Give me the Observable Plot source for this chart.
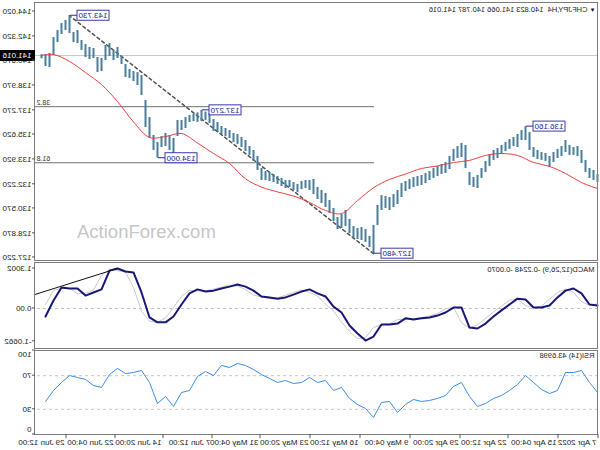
<!DOCTYPE html>
<html><head><meta charset="utf-8">
<script src="https://cdn.jsdelivr.net/npm/d3@7"></script>
<script src="https://cdn.jsdelivr.net/npm/@observablehq/plot@0.6"></script>
<style>
html,body{margin:0;padding:0;background:#fff;}
#wrap{position:relative;width:600px;height:450px;overflow:hidden;background:#fff;}
#chart{position:absolute;left:0;top:0;width:600px;height:450px;transform:scaleX(-1);transform-origin:300px 225px;}
#chart svg{display:block;}
#wm{position:absolute;left:0;top:0;pointer-events:none;}
</style></head><body>
<div id="wrap"><div id="chart"></div>
<svg id="wm" width="600" height="450"><text x="77" y="238" font-family="'Liberation Sans', Arial, sans-serif" font-size="18.5" fill="#c6c6c6">ActionForex.com</text></svg>
</div>
<script>
const FONT = "'Liberation Sans', Arial, sans-serif";
const symbolTitle = "CHFJPY,H4\u00a0\u00a0140.823 141.066 140.787 141.016";
const macdTitle = "MACD(12,26,9) -0.2248 -0.0070";
const rsiTitle = "RSI(14) 43.6998";
const lastClose = 141.016;

// H4 bars (one entry per sampled bar, oldest first)
const high = [132.89,133.16,133.30,133.85,134.53,134.80,134.73,134.87,135.21,134.80,
134.60,134.39,134.12,134.32,134.39,134.53,134.73,135.76,136.16,135.89,
135.62,135.42,135.28,135.07,134.87,134.66,134.53,134.25,133.78,133.30,
132.82,132.68,133.03,134.87,135.01,134.80,134.60,134.12,133.71,133.57,
133.44,133.30,133.09,132.96,132.82,132.75,132.68,132.55,132.41,132.27,
131.80,131.52,131.32,131.39,131.45,130.77,129.41,128.66,129.13,129.27,
129.20,129.34,129.82,130.43,130.16,129.95,130.57,131.11,131.59,131.80,
132.00,132.55,132.48,132.48,132.41,132.21,132.34,132.48,132.48,132.62,
132.75,132.89,133.03,133.09,133.30,134.12,134.53,134.80,135.21,135.42,
135.62,135.69,135.89,136.03,136.17,136.44,136.64,137.05,137.15,137.27,
137.10,137.00,136.92,136.78,136.58,136.58,135.35,135.55,135.69,135.48,
135.07,135.55,136.78,137.94,139.65,139.85,139.92,140.06,140.40,140.95,
141.56,141.36,141.83,141.70,140.81,140.88,141.49,141.56,141.77,142.04,
142.72,142.59,143.73,143.41,143.20,142.72,142.24,141.15,141.08,141.07];
const low = [132.34,132.48,132.62,133.03,133.64,134.12,134.19,134.19,134.39,134.12,
133.98,133.71,133.37,133.78,133.85,133.91,134.05,134.53,135.21,135.21,
134.73,134.80,134.60,134.46,134.25,133.98,133.85,133.44,133.03,132.62,
131.93,132.00,132.14,133.30,134.05,133.98,133.78,133.23,132.96,132.89,
132.75,132.62,132.48,132.27,132.14,132.07,132.00,131.86,131.73,131.32,
130.84,130.63,130.43,130.57,130.43,129.41,127.48,127.90,128.25,128.38,
128.45,128.52,128.86,129.34,129.20,129.13,129.68,130.23,130.63,130.91,
131.18,131.52,131.80,131.93,131.86,131.66,131.80,132.00,131.93,132.07,
132.21,132.34,132.41,132.48,132.48,133.16,133.78,134.19,134.46,134.73,
134.94,135.07,135.35,135.48,135.62,135.76,135.83,136.37,136.58,136.50,
136.45,136.50,136.44,136.03,135.89,135.48,134.32,134.53,134.80,134.73,
134.00,134.53,135.35,136.10,138.28,138.97,139.24,139.44,139.51,140.40,
140.81,140.67,140.95,140.67,139.92,139.85,140.81,140.74,140.88,141.36,
141.83,141.90,142.52,142.72,142.45,141.90,141.02,140.20,140.26,140.79];

// moving average (red)
const maIdx = [0,4,8,12,16,20,24,28,32,36,40,44,48,52,56,60,64,68,72,76,80,84,88,92,96,100,104,108,112,116,120,124,128,132,136,139];
const maVal = [131.93,132.34,132.96,133.44,133.71,134.19,134.32,134.19,133.85,133.71,133.47,133.30,132.92,132.55,131.98,131.11,130.22,130.43,130.98,131.42,131.70,132.03,132.59,133.64,134.32,135.04,135.69,135.48,135.42,136.48,137.87,139.03,139.85,140.61,141.08,141.02];

// MACD(12,26,9) main and signal, every second bar
const macd = [0.10,0.13,0.49,0.65,0.58,0.36,0.10,0.03,0.03,0.29,
0.32,0.13,-0.06,-0.26,-0.49,-0.65,-0.62,0.03,0.03,-0.13,
-0.23,-0.29,-0.32,-0.36,-0.32,-0.49,-0.52,-0.52,-0.91,-1.04,
-0.81,-0.55,-0.13,0.06,0.39,0.49,0.62,0.55,0.45,0.36,
0.32,0.36,0.39,0.58,0.71,0.78,0.71,0.65,0.58,0.55,
0.62,0.49,0.13,-0.26,-0.45,-0.45,-0.29,0.52,1.17,1.20,
1.30,1.23,0.62,0.52,0.42,0.65,0.65,0.68,0.26,-0.26];
const signal = [0.15,0.11,0.22,0.53,0.63,0.52,0.30,0.08,0.03,0.10,
0.30,0.27,0.08,-0.11,-0.32,-0.53,-0.64,-0.46,0.03,-0.01,
-0.16,-0.24,-0.30,-0.33,-0.35,-0.36,-0.50,-0.52,-0.62,-0.94,
-0.98,-0.75,-0.44,-0.08,0.14,0.41,0.52,0.60,0.52,0.43,
0.35,0.33,0.37,0.44,0.61,0.73,0.76,0.69,0.63,0.57,
0.57,0.59,0.40,0.03,-0.31,-0.45,-0.41,-0.09,0.68,1.18,
1.23,1.28,1.08,0.60,0.50,0.48,0.65,0.66,0.58,0.13];

// RSI(14), every second bar
const rsi = [50.0,61.9,76.2,73.8,73.8,52.4,48.8,53.6,61.9,70.2,
59.5,52.4,46.4,42.9,36.9,33.4,45.3,61.9,57.2,46.4,
42.9,40.5,39.3,41.7,35.7,26.2,39.3,38.1,20.3,31.0,
35.7,42.9,56.0,52.4,64.3,61.9,67.9,61.9,60.7,64.3,
61.9,66.7,71.4,77.4,82.2,84.5,79.8,82.2,70.2,75.0,
69.1,52.4,50.0,33.4,45.3,36.9,61.9,76.2,73.8,72.6,
78.6,71.4,56.0,58.3,65.5,67.9,70.2,61.9,52.4,39.3];

const priceTicks = [144.02,142.32,140.67,138.97,137.27,135.62,133.92,132.22,130.57,128.87,127.22];
const macdTicks = [1.3002,0,-1.0662];
const macdTickLabels = ["1.3002","0.00","-1.0662"];
const timeTickIdx = [0,10,22.5,34.5,47,59.5,72,84.5,96.5,108.75,120.75,133];
const timeTickLabels = ["7 Apr 2022","15 Apr 04:00","22 Apr 12:00","29 Apr 20:00","9 May 04:00","16 May 12:00","23 May 20:00","31 May 04:00","7 Jun 12:00","14 Jun 20:00","22 Jun 04:00","29 Jun 12:00"];

const extremeIdx = [18,56,99,110,132];
const extremePrice = [136.16,127.48,137.27,134.00,143.73];
const fibNames = ["38.2","61.8"];
const fibLevels = [137.52,133.69];
const fibStartIdx = 56;
const trendIdx = [56,132];
const trendPrice = [127.48,143.73];
const macdTrendIdx = [120,140.75];
const macdTrendVal = [1.30,0.45];

const X_DOMAIN = [0, 140.75];
const AXIS_SPAN = 8.75; // width of the price-axis strip, in bar units
const baseStyle = {fontFamily: FONT, fontSize: "8px", background: "#fff", overflow: "visible"};

const bars = high.map((h, i) => ({i, h, l: low[i]}));
const ma = maIdx.map((i, j) => ({i, v: maVal[j]}));
const trend = trendIdx.map((i, j) => ({i, p: trendPrice[j]}));

const mainPlot = Plot.plot({
  width: 600, height: 261, marginTop: 2, marginRight: 35, marginBottom: 1, marginLeft: 2,
  x: {domain: X_DOMAIN, axis: null},
  y: {domain: [127.015, 144.635], axis: null},
  style: baseStyle,
  marks: [
    Plot.ruleY([lastClose], {stroke: "#c8c8c8"}),
    Plot.ruleY(fibLevels, {x1: fibStartIdx, x2: X_DOMAIN[1], stroke: "#707070"}),
    Plot.text(fibLevels, {x: X_DOMAIN[1], y: d => d, text: (d, i) => fibNames[i], textAnchor: "end", lineAnchor: "middle", dx: -2, dy: -4, fontSize: 7, fill: "#333"}),
    Plot.line(trend, {x: "i", y: "p", stroke: "#505050", strokeDasharray: "3,3"}),
    Plot.ruleX(bars, {x: "i", y1: "l", y2: "h", stroke: "#4b7c99", strokeWidth: 2}),
    Plot.line(ma, {x: "i", y: "v", stroke: "#e8413c", strokeWidth: 1, curve: "catmull-rom"}),
    Plot.frame({stroke: "#7d7d7d"}),
    Plot.text(priceTicks, {y: d => d, text: d => d.toFixed(3), frameAnchor: "right", textAnchor: "start", lineAnchor: "middle", dx: 3, fill: "#222"}),
    // current price marker on the axis
    Plot.ruleY([lastClose], {x1: X_DOMAIN[1], x2: X_DOMAIN[1] + AXIS_SPAN, stroke: "#000", strokeWidth: 11}),
    Plot.text([lastClose], {y: d => d, text: d => d.toFixed(3), frameAnchor: "right", textAnchor: "start", lineAnchor: "middle", dx: 3, fill: "#fff"}),
    Plot.text([symbolTitle], {frameAnchor: "top-left", textAnchor: "start", lineAnchor: "middle", dx: 10, dy: 7.5, fontSize: 7.5, fill: "#222"}),
    Plot.text(["\u25BC"], {frameAnchor: "top-left", textAnchor: "start", lineAnchor: "middle", dx: 2, dy: 7.5, fontSize: 6, fill: "#111"})
  ]
});

const macdData = macd.map((v, k) => ({i: 2 * k, v, s: signal[k]}));
const macdTrend = macdTrendIdx.map((i, j) => ({i, v: macdTrendVal[j]}));
const macdPlot = Plot.plot({
  width: 600, height: 88, marginTop: 1, marginRight: 35, marginBottom: 1, marginLeft: 2,
  x: {domain: X_DOMAIN, axis: null},
  y: {domain: [-1.2987, 1.4935], axis: null},
  style: baseStyle,
  marks: [
    Plot.ruleY([0], {stroke: "#c0c0c0", strokeDasharray: "3,3"}),
    Plot.line(macdData, {x: "i", y: "s", stroke: "#c9c9c9", strokeWidth: 1}),
    Plot.line(macdData, {x: "i", y: "v", stroke: "#17177a", strokeWidth: 2}),
    Plot.line(macdTrend, {x: "i", y: "v", stroke: "#111", strokeWidth: 1}),
    Plot.frame({stroke: "#7d7d7d"}),
    Plot.text(macdTicks, {y: d => d, text: (d, i) => macdTickLabels[i], frameAnchor: "right", textAnchor: "start", lineAnchor: "middle", dx: 3, fill: "#222"}),
    Plot.text([macdTitle], {frameAnchor: "top-left", textAnchor: "start", lineAnchor: "middle", dx: 3, dy: 7.5, fontSize: 7.5, fill: "#222"})
  ]
});

const rsiData = rsi.map((v, k) => ({i: 2 * k, v}));
const rsiPlot = Plot.plot({
  width: 600, height: 101, marginTop: 1, marginRight: 35, marginBottom: 16, marginLeft: 2,
  x: {domain: X_DOMAIN, axis: null},
  y: {domain: [0, 100], axis: null},
  style: baseStyle,
  marks: [
    Plot.ruleY([30, 70], {stroke: "#c8c8c8", strokeDasharray: "3,3"}),
    Plot.line(rsiData, {x: "i", y: "v", stroke: "#3a8ee6", strokeWidth: 1}),
    Plot.frame({stroke: "#7d7d7d"}),
    Plot.text([70, 30], {y: d => d, text: d => String(d), frameAnchor: "right", textAnchor: "start", lineAnchor: "middle", dx: 3, fill: "#222"}),
    Plot.text([100], {y: d => d, text: d => String(d), frameAnchor: "right", textAnchor: "start", lineAnchor: "middle", dx: 3, dy: 4, fill: "#222"}),
    Plot.text([0], {y: d => d, text: d => String(d), frameAnchor: "right", textAnchor: "start", lineAnchor: "middle", dx: 3, dy: -5, fill: "#222"}),
    Plot.text([rsiTitle], {frameAnchor: "top-left", textAnchor: "start", lineAnchor: "middle", dx: 3, dy: 5.5, fontSize: 7.5, fill: "#222"}),
    Plot.text(timeTickIdx, {x: d => d, text: (d, i) => timeTickLabels[i], frameAnchor: "bottom", textAnchor: "start", lineAnchor: "middle", dx: 1, dy: 7.5, fill: "#222"})
  ]
});

// decorations drawn through the plots' own scales
(function decorateMain(svg) {
  const sx = svg.scale("x"), sy = svg.scale("y");
  const xEnd = sx.apply(X_DOMAIN[1]);
  const g = d3.select(svg).append("g").attr("font-family", FONT).attr("font-size", 8);
  priceTicks.forEach(p => {
    const y = sy.apply(p);
    g.append("line").attr("x1", xEnd).attr("x2", xEnd + 3).attr("y1", y).attr("y2", y).attr("stroke", "#555");
  });
  extremeIdx.forEach((ix, j) => {
    const px = sx.apply(ix), py = sy.apply(extremePrice[j]);
    g.append("line").attr("x1", px).attr("x2", px - 7).attr("y1", py).attr("y2", py).attr("stroke", "#2b2b8f");
    g.append("rect").attr("x", px - 39).attr("y", py - 5).attr("width", 32).attr("height", 10)
      .attr("fill", "#fff").attr("stroke", "#3a3aa8").attr("stroke-width", 1);
    g.append("text").attr("x", px - 23).attr("y", py).attr("dy", "0.35em").attr("text-anchor", "middle")
      .attr("fill", "#22228c").text(extremePrice[j].toFixed(3));
  });
})(mainPlot);

(function decorateSub(svg, ticks) {
  const sx = svg.scale("x"), sy = svg.scale("y");
  const xEnd = sx.apply(X_DOMAIN[1]);
  const g = d3.select(svg).append("g");
  ticks.forEach(v => {
    const y = sy.apply(v);
    g.append("line").attr("x1", xEnd).attr("x2", xEnd + 3).attr("y1", y).attr("y2", y).attr("stroke", "#555");
  });
})(macdPlot, macdTicks);

(function decorateRsi(svg) {
  const sx = svg.scale("x"), sy = svg.scale("y");
  const xEnd = sx.apply(X_DOMAIN[1]);
  const yb = sy.apply(0);
  const g = d3.select(svg).append("g");
  [0, 30, 70, 100].forEach(v => {
    const y = sy.apply(v);
    g.append("line").attr("x1", xEnd).attr("x2", xEnd + 3).attr("y1", y).attr("y2", y).attr("stroke", "#555");
  });
  timeTickIdx.forEach(t => {
    const x = sx.apply(t);
    g.append("line").attr("x1", x).attr("x2", x).attr("y1", yb).attr("y2", yb + 4).attr("stroke", "#555");
  });
})(rsiPlot);

document.getElementById("chart").append(mainPlot, macdPlot, rsiPlot);
</script></body></html>
